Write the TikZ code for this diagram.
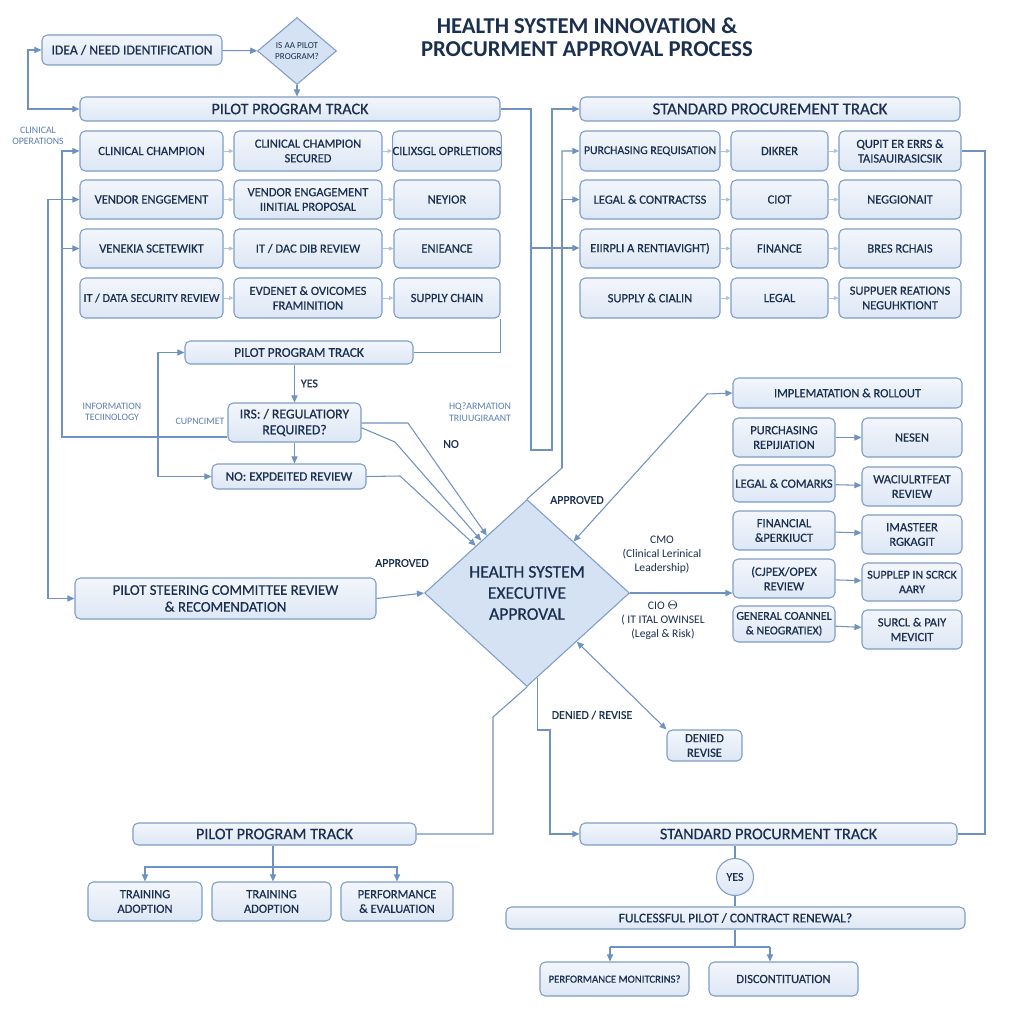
\documentclass[tikz,border=0pt]{standalone}
\usepackage{fontspec}
\setmainfont{Carlito}
\newfontfamily\semi{Carlito}[FakeBold=0.6]
\usetikzlibrary{shapes.geometric,arrows.meta}

\definecolor{navy}{HTML}{1B2F4E}
\definecolor{edge}{HTML}{7E9DC6}
\definecolor{wire}{HTML}{6F92C0}
\definecolor{boxtop}{HTML}{F3F6FC}
\definecolor{boxbot}{HTML}{DDE7F5}
\definecolor{note}{HTML}{5B7DB0}
\definecolor{diafill}{HTML}{D5E2F3}

\tikzset{
  corners/.style args={(#1,#2)(#3,#4)}{minimum width={(#3-#1)*0.02cm}, minimum height={(#4-#2)*0.02cm},
    at={({(#1+#3)/2},{(#2+#4)/2})}},
  box/.style={draw=edge, rounded corners=3pt, top color=boxtop, bottom color=boxbot,
    inner sep=0pt, align=center, text=navy, line width=0.6pt,
    font=\semi\fontsize{7.1}{8.3}\selectfont},
  head/.style={box, font=\semi\fontsize{9.2}{10.5}\selectfont},
  wire/.style={draw=wire, line width=0.6pt},
  arr/.style={wire, -{Triangle[length=4pt,width=3.5pt]}},
  arrs/.style={wire, {Triangle[length=4pt,width=3.5pt]}-{Triangle[length=4pt,width=3.5pt]}},
  tiny/.style={draw=wire!55, line width=0.5pt, -{Triangle[length=2.5pt,width=2.2pt]}},
  note/.style={text=note, align=center, font=\fontsize{5.6}{6.6}\selectfont},
  tag/.style={text=navy, align=center, font=\semi\fontsize{6.8}{8}\selectfont},
}

\begin{document}
\begin{tikzpicture}[x=0.02cm, y=-0.02cm]

        % Canvas
        \fill[white] (0,0) rectangle (1024,1024);
        \useasboundingbox (0,0) rectangle (1024,1024);

        % Title
        \node[text=navy, align=center, font=\bfseries\fontsize{12.9}{13.3}\selectfont] (title) at (587,37)
          {HEALTH SYSTEM INNOVATION \&\\PROCURMENT APPROVAL PROCESS};

        % Start: idea and pilot question
        \node[box, font=\semi\fontsize{7.8}{9}\selectfont, corners={(42,35)(222,65)}] (idea) {IDEA / NEED IDENTIFICATION};
        \node[diamond, draw=edge, fill=diafill, line width=0.6pt, inner sep=0pt, minimum width=1.58cm,
          minimum height=1.34cm, align=center, text=navy, font=\fontsize{5.2}{6}\selectfont] (isdia) at (297,51)
          {IS AA PILOT\\PROGRAM?};
        \draw[arr] (idea) -- (isdia);

        % Pilot Program Track (top)
        \node[head, corners={(80,97)(500,121)}] (ptrack) {PILOT PROGRAM TRACK};
        \draw[arr] (isdia.south) -- (isdia.south |- ptrack.north);
        \coordinate (loopL) at (28,80);
        \draw[arr] (loopL) |- (idea.west);
        \draw[arr] (loopL) |- (ptrack.west);

        \node[box, corners={(80,131)(223,171)}] (p11) {CLINICAL CHAMPION};
        \node[box, corners={(234,131)(382,171)}] (p12) {CLINICAL CHAMPION\\SECURED};
        \node[box, corners={(394,131)(500,171)}] (p13) {CILIXSGL OPRLETIORS};
        \node[box, corners={(80,180)(223,219)}] (p21) {VENDOR ENGGEMENT};
        \node[box, corners={(234,180)(382,219)}] (p22) {VENDOR ENGAGEMENT\\IINITIAL PROPOSAL};
        \node[box, corners={(394,180)(500,219)}] (p23) {NEYIOR};
        \node[box, corners={(80,229)(223,268)}] (p31) {VENEKIA SCETEWIKT};
        \node[box, corners={(234,229)(382,268)}] (p32) {IT / DAC DIB REVIEW};
        \node[box, corners={(394,229)(500,268)}] (p33) {ENIEANCE};
        \node[box, font=\semi\fontsize{6.9}{8}\selectfont, corners={(80,278)(223,318)}] (p41) {IT / DATA SECURITY REVIEW};
        \node[box, corners={(234,278)(382,318)}] (p42) {EVDENET \& OVICOMES\\FRAMINITION};
        \node[box, corners={(394,278)(500,318)}] (p43) {SUPPLY CHAIN};
        \foreach \r in {1,...,4} {
          \draw[tiny] (p\r1) -- (p\r2);
          \draw[tiny] (p\r2) -- (p\r3);
        }

        % Standard Procurement Track (top)
        \node[head, font=\semi\fontsize{9.6}{11}\selectfont, corners={(580,97)(960,121)}] (strack) {STANDARD PROCUREMENT TRACK};
        \node[box, font=\semi\fontsize{6.7}{8}\selectfont, corners={(580,131)(720,171)}] (s11) {PURCHASING REQUISATION};
        \node[box, corners={(731,131)(828,171)}] (s12) {DIKRER};
        \node[box, corners={(839,131)(961,171)}] (s13) {QUPIT ER ERRS \&\\TAISAUIRASICSIK};
        \node[box, corners={(580,180)(720,219)}] (s21) {LEGAL \& CONTRACTSS};
        \node[box, corners={(731,180)(828,219)}] (s22) {CIOT};
        \node[box, corners={(839,180)(961,219)}] (s23) {NEGGIONAIT};
        \node[box, corners={(580,229)(720,268)}] (s31) {EIIRPLI A RENTIAVIGHT)};
        \node[box, corners={(731,229)(828,268)}] (s32) {FINANCE};
        \node[box, corners={(839,229)(961,268)}] (s33) {BRES RCHAIS};
        \node[box, corners={(580,278)(720,318)}] (s41) {SUPPLY \& CIALIN};
        \node[box, corners={(731,278)(828,318)}] (s42) {LEGAL};
        \node[box, corners={(839,278)(961,318)}] (s43) {SUPPUER REATIONS\\NEGUHKTIONT};
        \foreach \r in {1,...,4} {
          \draw[tiny] (s\r1) -- (s\r2);
          \draw[tiny] (s\r2) -- (s\r3);
        }

        % Links between the two tracks
        \coordinate (j1) at (531,248);
        \coordinate (j2) at (552,450);
        \draw[wire] (ptrack.east) -| (j1);
        \draw[arr] (j1) -- (j1 -| s31.west);
        \draw[arr] (j1) |- (j2) |- (strack.west);

        % Left side labels
        \node[note] (clinops) at (38,136) {CLINICAL\\OPERATIONS};
        \node[note] (infotech) at (112,412) {INFORMATION\\TECIINOLOGY};
        \node[note] (cupn) at (200,421) {CUPNCIMET};
        \node[note] (hqarm) at (480,412) {HQ?ARMATION\\TRIUUGIRAANT};

        % Pilot Program Track (middle)
        \node[box, font=\semi\fontsize{7.6}{9}\selectfont, corners={(185,341)(413,364)}] (pt2) {PILOT PROGRAM TRACK};
        \node[box, font=\semi\fontsize{7.8}{9}\selectfont, corners={(228,403)(361,442)}] (irs) {IRS: / REGULATIORY\\REQUIRED?};
        \node[box, font=\semi\fontsize{7.4}{9}\selectfont, corners={(212,464)(366,489)}] (expd) {NO: EXPDEITED REVIEW};
        \draw[arr] (irs.north |- pt2.south) -- node[tag, right] {YES} (irs.north);
        \draw[arr] (irs.south) -- (irs.south |- expd.north);
        \draw[wire] (pt2.east) -| (p43.south east);

        \coordinate (c1) at (62,437);
        \draw[arr] (c1 -| irs.west) -- (c1) |- (p11.west);
        \draw[arr] (c1) |- (p31.west);
        \coordinate (c3) at (158,400);
        \draw[arr] (c3) |- (pt2.west);
        \draw[arr] (c3) |- (expd.west);

        % Executive approval
        \node[diamond, draw=edge, fill=diafill, line width=0.6pt, inner sep=0pt, minimum width=4.1cm,
          minimum height=3.74cm, align=center, text=navy, font=\semi\fontsize{10}{12}\selectfont] (exec) at (527,593)
          {HEALTH SYSTEM\\EXECUTIVE\\APPROVAL};

        \coordinate (k1) at (408,423);
        \coordinate (k2) at (395,442);
        \coordinate (k3) at (400,476);
        \draw[arr] (irs.east |- k1) -- (k1) -- (exec);
        \draw[arr] ([yshift=-3pt]irs.east) -- (k2) -- (exec);
        \draw[arr] (expd.east) -- (k3) -- (exec);
        \node[tag] (no) at (451,444) {NO};

        % Steering committee
        \node[box, font=\semi\fontsize{8.4}{9.6}\selectfont, corners={(75,578)(376,619)}] (steer)
          {PILOT STEERING COMMITTEE REVIEW\\\& RECOMENDATION};
        \coordinate (c2) at (48,598.5);
        \draw[arr] (c2) |- (p21.west);
        \draw[arr] (c2) -- (steer.west);
        \draw[arr] (steer.east) -- (exec.west);
        \node[tag] (appr1) at (402,563) {APPROVED};

        % Diamond to standard track rows
        \coordinate (j3) at (562,468);
        \draw[arr] (exec.north) -- (j3) |- (s11.west);
        \draw[arr] (j3) |- (s21.west);
        \node[tag] (appr2) at (577,500) {APPROVED};

        % Implementation & rollout
        \node[box, corners={(733,378)(962,408)}] (impl) {IMPLEMATATION \& ROLLOUT};
        \coordinate (k4) at (707,394);
        \draw[arrs] (exec) -- (k4) -- (impl.west);

        \node[box, corners={(733,418)(835,457)}] (r11) {PURCHASING\\REPIJIATION};
        \node[box, corners={(862,418)(962,457)}] (r12) {NESEN};
        \node[box, corners={(733,465)(835,502)}] (r21) {LEGAL \& COMARKS};
        \node[box, corners={(862,467)(962,506)}] (r22) {WACIULRTFEAT\\REVIEW};
        \node[box, corners={(733,511)(835,550)}] (r31) {FINANCIAL\\\&PERKIUCT};
        \node[box, corners={(862,515)(962,554)}] (r32) {IMASTEER\\RGKAGIT};
        \node[box, corners={(733,559)(835,598)}] (r41) {(CJPEX/OPEX\\REVIEW};
        \node[box, font=\semi\fontsize{6.8}{8.3}\selectfont, corners={(862,563)(962,601)}] (r42) {SUPPLEP IN SCRCK\\AARY};
        \node[box, font=\semi\fontsize{6.8}{8.3}\selectfont, corners={(733,606)(835,642)}] (r51) {GENERAL COANNEL\\\& NEOGRATIEX)};
        \node[box, corners={(862,610)(962,649)}] (r52) {SURCL \& PAIY\\MEVICIT};
        \foreach \r in {1,...,5}
          \draw[arr] (r\r1) -- (r\r2);

        \draw[arr] (exec.east) -- (exec.east -| r41.west);
        \node[tag, font=\fontsize{6.6}{8}\selectfont] (cmo) at (662,555) {CMO\\(Clinical Lerinical\\Leadership)};
        \node[tag, font=\fontsize{6.6}{8}\selectfont] (cio) at (663,620) {CIO $\Theta$\\( IT ITAL OWINSEL\\(Legal \& Risk)};

        % Denied / revise
        \node[box, corners={(667,730)(742,761)}] (denied) {DENIED\\REVISE};
        \draw[arrs] (exec) -- (denied.north west);
        \node[tag] (denlab) at (592,715) {DENIED / REVISE};

        % Pilot Program Track (bottom)
        \node[head, corners={(133,823)(416,845)}] (pbot) {PILOT PROGRAM TRACK};
        \coordinate (k6) at (493,717);
        \draw[wire] (exec.south) -- (k6) |- (pbot.east);
        \node[box, corners={(88,882)(202,921)}] (b1) {TRAINING\\ADOPTION};
        \node[box, corners={(212,882)(331,921)}] (b2) {TRAINING\\ADOPTION};
        \node[box, corners={(341,882)(453,921)}] (b3) {PERFORMANCE\\\& EVALUATION};
        \coordinate (k11) at (273,867);
        \draw[wire] (pbot.south -| k11) -- (k11);
        \draw[arr] (k11) -| (b1.north);
        \draw[arr] (k11) -- (k11 |- b2.north);
        \draw[arr] (k11) -| (b3.north);

        % Standard Procurement Track (bottom)
        \node[head, corners={(580,823)(957,845)}] (sbot) {STANDARD PROCURMENT TRACK};
        \coordinate (k5) at (550,730);
        \draw[arr] (exec.-83) |- (k5) |- (sbot.west);
        \coordinate (k7) at (985,500);
        \draw[wire] (s13.east) -| (k7) |- (sbot.east);

        \node[circle, draw=edge, top color=boxtop, bottom color=boxbot, line width=0.6pt, inner sep=0pt,
          minimum size=0.74cm, text=navy, font=\semi\fontsize{6.8}{8}\selectfont] (yes) at (735,877) {YES};
        \draw[wire] (yes.north |- sbot.south) -- (yes.north);
        \node[box, font=\semi\fontsize{7.6}{9}\selectfont, corners={(506,907)(965,929)}] (renew) {FULCESSFUL PILOT / CONTRACT RENEWAL?};
        \draw[wire] (yes.south) -- (yes.south |- renew.north);

        \node[box, font=\semi\fontsize{6.1}{7}\selectfont, corners={(540,962)(689,996)}] (perf) {PERFORMANCE MONITCRINS?};
        \node[box, corners={(709,962)(858,996)}] (disc) {DISCONTITUATION};
        \coordinate (k8) at (735,947);
        \coordinate (k9) at (610,947);
        \coordinate (k10) at (770,947);
        \draw[wire] (renew.south -| k8) -- (k8);
        \draw[wire] (k9) -- (k10);
        \draw[arr] (k9) -- (k9 |- perf.north);
        \draw[arr] (k10) -- (k10 |- disc.north);

\end{tikzpicture}
\end{document}
